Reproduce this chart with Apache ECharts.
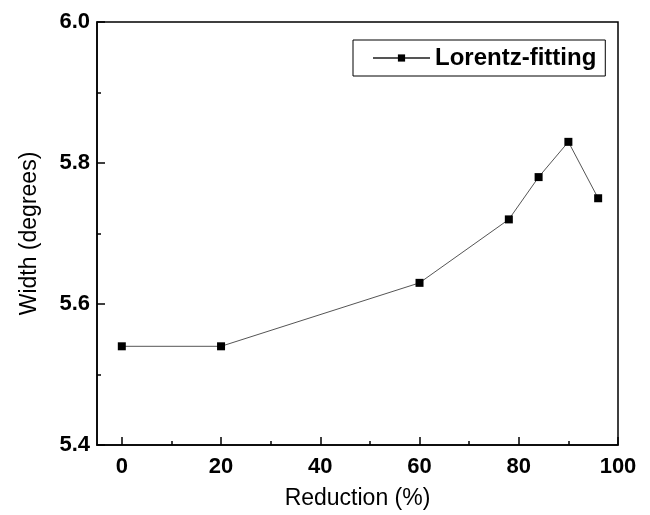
<!DOCTYPE html>
<html>
<head>
<meta charset="utf-8">
<script src="https://cdn.jsdelivr.net/npm/echarts@6/dist/echarts.min.js"></script>
<style>
  html, body { margin: 0; padding: 0; background: #fff; }
  #chart { width: 650px; height: 515px; }
</style>
</head>
<body>
<div id="chart"></div>
<script>
// data
const reduction = [0, 20, 60, 78, 84, 90, 96];
const width = [5.54, 5.54, 5.63, 5.72, 5.78, 5.83, 5.75];
const xMajor = [0, 20, 40, 60, 80, 100];
const xMinor = [10, 30, 50, 70, 90];
const yMajor = [5.4, 5.6, 5.8, 6.0];
const yMinor = [5.5, 5.7, 5.9];

const chart = echarts.init(document.getElementById('chart'));

const font = 'Liberation Sans, Arial, sans-serif';
const tickStyle = { color: '#000', width: 1.5 };

chart.setOption({
    backgroundColor: '#fff',
    animation: false,
    grid: { left: 97, right: 32, top: 22, bottom: 70, show: true, borderColor: '#000', borderWidth: 1.5 },
    legend: {
        left: 353, top: 40,
        padding: [6, 9, 6, 19],
        borderColor: '#000', borderWidth: 1,
        itemWidth: 57, itemHeight: 9, itemGap: 8,
        textStyle: { fontFamily: font, fontWeight: 'bold', fontSize: 24, color: '#000' },
        data: ['Lorentz-fitting']
    },
    xAxis: [
        {
            type: 'value', min: -5, max: 100,
            name: 'Reduction (%)', nameLocation: 'middle', nameGap: 42,
            nameTextStyle: { fontFamily: font, fontSize: 23, color: '#000' },
            axisLine: { onZero: false, lineStyle: tickStyle },
            axisTick: { inside: true, length: 8, customValues: xMajor, lineStyle: tickStyle },
            axisLabel: { customValues: xMajor, margin: 11, fontFamily: font, fontWeight: 'bold', fontSize: 22, color: '#000' },
            splitLine: { show: false }
        },
        {
            type: 'value', min: -5, max: 100, position: 'bottom',
            axisLine: { show: false, onZero: false },
            axisTick: { inside: true, length: 4, customValues: xMinor, lineStyle: tickStyle },
            axisLabel: { show: false },
            splitLine: { show: false }
        }
    ],
    yAxis: [
        {
            type: 'value', min: 5.4, max: 6.0,
            name: 'Width (degrees)', nameLocation: 'middle', nameGap: 56,
            nameTextStyle: { fontFamily: font, fontSize: 23, color: '#000' },
            axisLine: { show: true, onZero: false, lineStyle: tickStyle },
            axisTick: { show: true, inside: true, length: 8, customValues: yMajor, lineStyle: tickStyle },
            axisLabel: {
                customValues: yMajor, margin: 7,
                formatter: v => v.toFixed(1),
                fontFamily: font, fontWeight: 'bold', fontSize: 22, color: '#000'
            },
            splitLine: { show: false }
        },
        {
            type: 'value', min: 5.4, max: 6.0, position: 'left',
            axisLine: { show: false, onZero: false },
            axisTick: { show: true, inside: true, length: 4, customValues: yMinor, lineStyle: tickStyle },
            axisLabel: { show: false },
            splitLine: { show: false }
        }
    ],
    series: [
        {
            name: 'Lorentz-fitting',
            type: 'line',
            data: reduction.map((x, i) => [x, width[i]]),
            symbol: 'rect', symbolSize: 8,
            itemStyle: { color: '#000' },
            lineStyle: { color: '#555', width: 1 }
        }
    ]
});
</script>
</body>
</html>
